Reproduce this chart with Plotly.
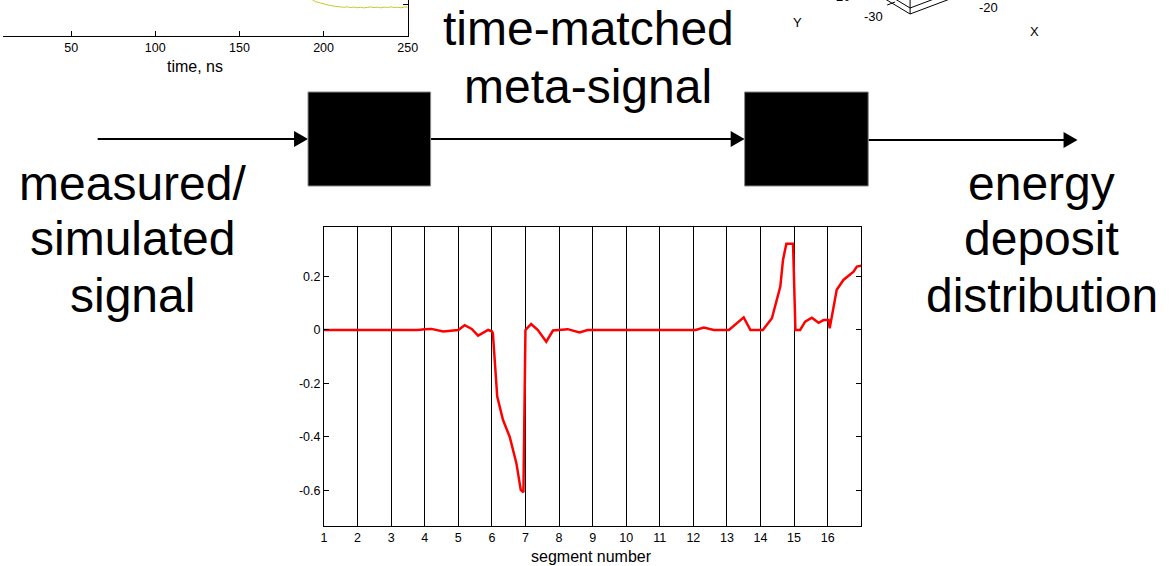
import plotly.graph_objects as go

W, H = 1169, 566
X_STRETCH = 1.008  # horizontal correction for the page width
FONT = "Liberation Sans, Arial, sans-serif"

# ---- reconstructed meta-signal (value per segment position) ----
seg_pos = [1.0, 2.0, 3.0, 3.8, 4.0, 4.2, 4.55, 4.8, 5.0, 5.19, 5.4, 5.59, 5.75, 5.89,
           6.0, 6.03, 6.16, 6.33, 6.53, 6.73, 6.86, 6.94, 7.0, 7.17, 7.37, 7.62,
           7.82, 7.97, 8.26, 8.61, 8.85, 9.5, 10.5, 11.5, 12.07, 12.31, 12.61,
           13.06, 13.5, 13.7, 14.07, 14.34, 14.59, 14.67, 14.77, 14.97, 15.04,
           15.18, 15.33, 15.53, 15.73, 15.88, 16.03, 16.06, 16.27, 16.47, 16.77,
           16.87, 17.0]
meta_signal = [0.0, 0.0, 0.0, 0.0, 0.003, 0.004, -0.006, -0.004, 0.0, 0.018, 0.004,
               -0.021, -0.01, 0.0, -0.005, -0.012, -0.249, -0.336, -0.399, -0.498,
               -0.598, -0.607, 0.0, 0.022, 0.0, -0.044, -0.002, 0.0, 0.003, -0.009,
               0.0, 0.0, 0.0, 0.0, 0.0, 0.009, 0.0, 0.0, 0.047, 0.0, 0.0, 0.044,
               0.162, 0.262, 0.322, 0.322, 0.0, 0.0, 0.031, 0.046, 0.027, 0.037,
               0.037, 0.006, 0.15, 0.187, 0.218, 0.237, 0.24]

seg_ticks = list(range(1, 17))
seg_tick_text = [str(v) for v in seg_ticks]
amp_ticks = [-0.6, -0.4, -0.2, 0, 0.2]
amp_tick_text = ["-0.6", "-0.4", "-0.2", "0", "0.2"]

# ---- tail of the measured waveform (time in ns) ----
time_ns = [188, 193, 195, 198, 201, 204, 207, 210, 212, 214, 216, 218, 220, 222,
           224, 226, 228, 230, 232, 234, 236, 238, 240, 242, 244, 246, 248, 250]
waveform = [0.12, 0.06, 0.033, 0.017, 0.0, -0.011, -0.02, -0.028, -0.031, -0.026,
            -0.034, -0.029, -0.036, -0.03, -0.038, -0.032, -0.027, -0.035, -0.03,
            -0.037, -0.029, -0.033, -0.026, -0.034, -0.031, -0.037, -0.028, -0.03]
time_ticks = [50, 100, 150, 200, 250]

# ---- pipeline text ----
input_lines = ["measured/", "simulated", "signal"]
middle_lines = ["time-matched", "meta-signal"]
output_lines = ["energy", "deposit", "distribution"]


def fx(p):
    return min(p * X_STRETCH / W, 1.0)


def fy(p):
    return 1 - p / H


fig = go.Figure()

fig.add_trace(go.Scatter(x=seg_pos, y=meta_signal, mode="lines",
                         line=dict(color="#ff0000", width=2.5),
                         xaxis="x", yaxis="y", hoverinfo="skip"))
fig.add_trace(go.Scatter(x=time_ns, y=waveform, mode="lines",
                         line=dict(color="#c8c828", width=1),
                         xaxis="x2", yaxis="y2", hoverinfo="skip"))

axis_font = dict(family=FONT, size=12.5, color="black")

shapes = []


def arrow(x0, x1, y):
    shapes.append(dict(type="line", xref="paper", yref="paper",
                       x0=fx(x0), x1=fx(x1 - 13), y0=fy(y), y1=fy(y),
                       line=dict(color="black", width=2)))
    shapes.append(dict(type="path", xref="paper", yref="paper",
                       path=f"M {fx(x1 - 14)} {fy(y - 8)} L {fx(x1)} {fy(y)} L {fx(x1 - 14)} {fy(y + 8)} Z",
                       fillcolor="black", line=dict(color="black", width=0)))


arrow(95, 306, 139)
arrow(429, 744, 139)
arrow(868, 1078, 140)
for x0, x1 in [(306, 429), (744, 868)]:
    shapes.append(dict(type="rect", xref="paper", yref="paper",
                       x0=fx(x0), x1=fx(x1), y0=fy(186), y1=fy(92),
                       fillcolor="black", line=dict(color="#888888", width=1)))

# corner of the 3-D view
for (x0, y0, x1, y1) in [(885, -1, 910, 14), (910, -1, 910, 14), (910, 14, 950, -1),
                         (895, -1, 910, 8), (910, 8, 934, -1), (887, 5, 895, 2)]:
    shapes.append(dict(type="line", xref="paper", yref="paper",
                       x0=fx(x0), y0=fy(y0), x1=fx(x1), y1=fy(y1),
                       line=dict(color="black", width=1)))

annotations = []


def text(s, x, y, size=48):
    annotations.append(dict(text=s, x=fx(x), y=fy(y), xref="paper", yref="paper",
                            showarrow=False, xanchor="center", yanchor="middle",
                            font=dict(family=FONT, size=size, color="black")))


for s, y in zip(middle_lines, [28, 87]):
    text(s, 587, y)
for s, y in zip(input_lines, [183, 238, 295]):
    text(s, 130, y)
for s, y in zip(output_lines, [183, 238, 295]):
    text(s, 1042, y)

text("segment number", 590, 556, 16)
text("time, ns", 193, 67, 16)
text("Y", 797, 23, 13)
text("X", 1035, 32, 13)
text("-30", 873, 17, 13)
text("-20", 989, 8, 13)
text("20", 843, -3, 13)

fig.update_layout(
    width=W, height=H,
    margin=dict(l=0, r=0, t=0, b=0),
    paper_bgcolor="white", plot_bgcolor="white",
    showlegend=False,
    shapes=shapes, annotations=annotations,
    xaxis=dict(domain=[fx(322), fx(861)], range=[1, 17], anchor="y",
               tickvals=seg_ticks, ticktext=seg_tick_text,
               showgrid=True, gridcolor="black", gridwidth=1,
               showline=True, linecolor="black", linewidth=1, mirror="ticks",
               ticks="inside", ticklen=5, tickcolor="black",
               tickfont=axis_font, zeroline=False),
    yaxis=dict(domain=[fy(526), fy(227)], range=[-0.733, 0.385], anchor="x",
               tickvals=amp_ticks, ticktext=amp_tick_text,
               showgrid=False, showline=True, linecolor="black", linewidth=1,
               mirror="ticks", ticks="inside", ticklen=5, tickcolor="black",
               tickfont=axis_font, zeroline=False),
    xaxis2=dict(domain=[0, fx(406)], range=[9.5, 250], anchor="y2",
                tickvals=time_ticks, showgrid=False, showline=True,
                linecolor="black", linewidth=1, ticks="inside", ticklen=5,
                tickcolor="black", tickfont=axis_font, zeroline=False),
    yaxis2=dict(domain=[fy(36), 1], range=[-0.35, 0.05], anchor="x2", side="right",
                tickvals=[0], showticklabels=False, showgrid=False, showline=True,
                linecolor="black", linewidth=1, ticks="inside", ticklen=5,
                tickcolor="black", zeroline=False),
)

fig.write_html("out.html")
